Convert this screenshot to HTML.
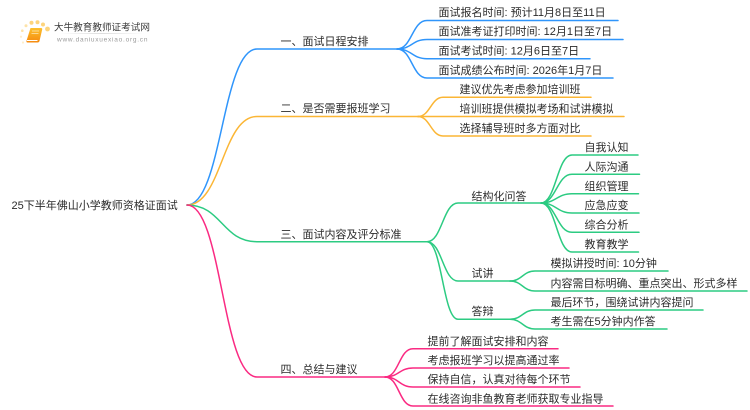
<!DOCTYPE html>
<html lang="zh-CN">
<head>
<meta charset="utf-8">
<title>25下半年佛山小学教师资格证面试</title>
<style>
html,body{margin:0;padding:0;background:#fff;width:750px;height:410px;overflow:hidden}
svg{display:block;filter:blur(.3px)}
text{font-family:"Liberation Sans","Noto Sans CJK SC",sans-serif;font-size:11px;fill:#2b2b2b}
.l{fill:none;stroke-width:1.5;stroke-linecap:round}
.b{stroke:#2f95fb}.o{stroke:#fbb635}.g{stroke:#2ccb82}.p{stroke:#fa2a82}
</style>
</head>
<body>
<svg width="750" height="410" viewBox="0 0 750 410" xmlns="http://www.w3.org/2000/svg">
<defs>
<linearGradient id="bk" x1="0" y1="0" x2="0" y2="1"><stop offset="0" stop-color="#fcc02c"/><stop offset="1" stop-color="#f58a0f"/></linearGradient>
<linearGradient id="sh" x1="0" y1="0" x2="1" y2="0"><stop offset="0" stop-color="#ddd" stop-opacity="0"/><stop offset=".5" stop-color="#ddd"/><stop offset="1" stop-color="#ddd" stop-opacity="0"/></linearGradient>
</defs>

<!-- Logo -->
<g>
<circle cx="47.500" cy="29" r="2.400" fill="#fdd47c"/>
<circle cx="43" cy="24.500" r="2" fill="#fdd47c"/>
<circle cx="37.500" cy="22.300" r="2" fill="#fdd47c"/>
<circle cx="31.500" cy="22.800" r="2" fill="#fdd47c"/>
<circle cx="26" cy="25.800" r="1.500" fill="#fde3a8"/>
<circle cx="22.300" cy="30.700" r="1.300" fill="#fde3a8"/>
<circle cx="21" cy="36.700" r="1.100" fill="#feeecb"/>
<circle cx="23" cy="42.500" r="1.100" fill="#feeecb"/>
<path d="M30.500 28h10.500q1.500 0 1.200 1.500l-2.700 11.500q-.4 1.500-2 1.500H27.500q-1.500 0-.9-2z" fill="url(#bk)"/>
<path d="M27 40.500h10.500" stroke="#fff" stroke-width="1" fill="none"/>
<path d="M32 31h7M31.500 33.500h7" stroke="#fde7b5" stroke-width=".8" fill="none"/>
<text x="54" y="30.500" style="font-size:9.600px;fill:#3c3c3c">大牛教育教师证考试网</text>
<rect x="60" y="33" width="85" height="1" fill="url(#sh)"/>
<text x="57" y="41.500" style="font-size:6.500px;letter-spacing:.76px;fill:#9a9a9a">www.daniuxuexiao.org.cn</text>
</g>

<!-- Blue -->
<g>
<path class="l b" d="M187 205C222 205 222 49 257 49H397"/>
<path class="l b" d="M397 49C412 49 412 20.500 427 20.500H618"/>
<path class="l b" d="M397 49C412 49 412 39.500 427 39.500H623"/>
<path class="l b" d="M397 49C412 49 412 58.700 427 58.700H590"/>
<path class="l b" d="M397 49C412 49 412 78 427 78H613"/>
</g>
<!-- Orange -->
<g>
<path class="l o" d="M187 205C222 205 222 116.500 257 116.500H418"/>
<path class="l o" d="M418 116.500C430 116.500 431 97.300 443 97.300H591"/>
<path class="l o" d="M418 116.500H624"/>
<path class="l o" d="M418 116.500C430 116.500 431 136 443 136H591"/>
</g>
<!-- Green -->
<g>
<path class="l g" d="M187 205C222 205 222 241.700 257 241.700H427"/>
<path class="l g" d="M427 241.700C442 241.700 443 203 458 203H541"/>
<path class="l g" d="M427 241.700C442 241.700 443 281 458 281H510"/>
<path class="l g" d="M427 241.700C442 241.700 443 319.300 458 319.300H510"/>
<path class="l g" d="M541 203C556 203 557 155 572 155H638"/>
<path class="l g" d="M541 203C556 203 557 174.300 572 174.300H639.500"/>
<path class="l g" d="M541 203C556 203 557 193.700 572 193.700H638.500"/>
<path class="l g" d="M541 203C556 203 557 213 572 213H639"/>
<path class="l g" d="M541 203C556 203 557 232.300 572 232.300H639"/>
<path class="l g" d="M541 203C556 203 557 252 572 252H638.500"/>
<path class="l g" d="M510 281C522 281 523 271 535 271H668"/>
<path class="l g" d="M510 281C522 281 523 291 535 291H747"/>
<path class="l g" d="M510 319.300C522 319.300 523 310 535 310H703"/>
<path class="l g" d="M510 319.300C522 319.300 523 329 535 329H667"/>
</g>
<!-- Pink -->
<g>
<path class="l p" d="M187 205C222 205 222 377 257 377H385"/>
<path class="l p" d="M385 377C399 377 399 348.700 413 348.700H558"/>
<path class="l p" d="M385 377C399 377 399 368 413 368H569"/>
<path class="l p" d="M385 377C399 377 399 387 413 387H580"/>
<path class="l p" d="M385 377C399 377 399 406 413 406H613"/>
</g>

<!-- Labels -->
<text x="11.500" y="209">25下半年佛山小学教师资格证面试</text>

<text x="280.500" y="45">一、面试日程安排</text>
<text x="438.500" y="16">面试报名时间: 预计11月8日至11日</text>
<text x="438.500" y="35">面试准考证打印时间: 12月1日至7日</text>
<text x="438.500" y="54.500">面试考试时间: 12月6日至7日</text>
<text x="438.500" y="74">面试成绩公布时间: 2026年1月7日</text>

<text x="280.500" y="112">二、是否需要报班学习</text>
<text x="459.500" y="93">建议优先考虑参加培训班</text>
<text x="459.500" y="112.500">培训班提供模拟考场和试讲模拟</text>
<text x="459.500" y="132">选择辅导班时多方面对比</text>

<text x="280.500" y="238">三、面试内容及评分标准</text>
<text x="471.500" y="200">结构化问答</text>
<text x="584.500" y="151">自我认知</text>
<text x="584.500" y="170.500">人际沟通</text>
<text x="584.500" y="190">组织管理</text>
<text x="584.500" y="209">应急应变</text>
<text x="584.500" y="228.500">综合分析</text>
<text x="584.500" y="248">教育教学</text>
<text x="471.500" y="277">试讲</text>
<text x="550.500" y="267">模拟讲授时间: 10分钟</text>
<text x="550.500" y="287">内容需目标明确、重点突出、形式多样</text>
<text x="471.500" y="315">答辩</text>
<text x="550.500" y="306">最后环节，围绕试讲内容提问</text>
<text x="550.500" y="325">考生需在5分钟内作答</text>

<text x="280.500" y="373">四、总结与建议</text>
<text x="427.500" y="345">提前了解面试安排和内容</text>
<text x="427.500" y="364">考虑报班学习以提高通过率</text>
<text x="427.500" y="383">保持自信，认真对待每个环节</text>
<text x="427.500" y="402.500">在线咨询非鱼教育老师获取专业指导</text>
</svg>
</body>
</html>
